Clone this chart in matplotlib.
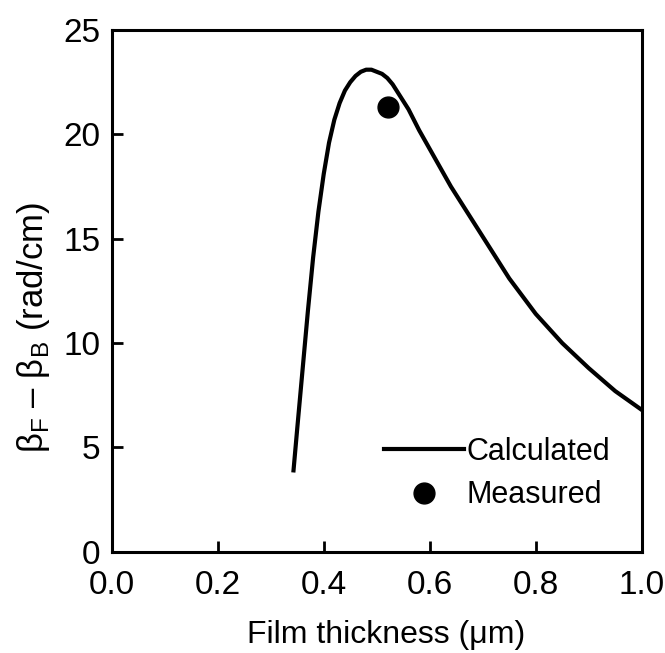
import matplotlib
matplotlib.use('Agg')
import matplotlib.pyplot as plt

plt.rcParams['font.family'] = ['Liberation Sans', 'DejaVu Sans']
plt.rcParams['mathtext.fontset'] = 'custom'
plt.rcParams['mathtext.rm'] = 'Liberation Sans'

# calculated curve
thickness = [0.343, 0.35, 0.36, 0.37, 0.38, 0.39, 0.40, 0.41, 0.42, 0.43,
             0.44, 0.45, 0.46, 0.47, 0.48, 0.49, 0.50, 0.51, 0.52, 0.53,
             0.54, 0.55, 0.56, 0.58, 0.60, 0.62, 0.64, 0.66, 0.68, 0.70,
             0.75, 0.80, 0.85, 0.90, 0.95, 1.0]
beta_diff = [3.9, 5.9, 8.7, 11.5, 14.1, 16.3, 18.1, 19.6, 20.7, 21.5,
             22.1, 22.5, 22.8, 23.0, 23.1, 23.1, 23.0, 22.9, 22.7, 22.4,
             22.0, 21.6, 21.2, 20.2, 19.3, 18.4, 17.5, 16.7, 15.9, 15.1,
             13.1, 11.4, 10.0, 8.8, 7.7, 6.8]

# measured point
meas_x = [0.521]
meas_y = [21.3]

x_ticks = [0.0, 0.2, 0.4, 0.6, 0.8, 1.0]
y_ticks = [0, 5, 10, 15, 20, 25]

fig = plt.figure(figsize=(6.65, 6.53), dpi=100)
ax = fig.add_axes([0.168, 0.155, 0.797, 0.799])

ax.plot(thickness, beta_diff, color='black', lw=3.0, label='Calculated',
        solid_joinstyle='round')
ax.plot(meas_x, meas_y, 'o', color='black', markersize=15, label='Measured')

ax.set_xlim(0, 1.0)
ax.set_ylim(0, 25)
ax.set_xticks(x_ticks)
ax.set_yticks(y_ticks)
ax.set_xticklabels(['%.1f' % v for v in x_ticks])
ax.tick_params(direction='in', length=8, width=2.0, labelsize=24)
ax.tick_params(axis='x', pad=13)
ax.tick_params(axis='y', pad=8)
for s in ax.spines.values():
    s.set_linewidth(2.2)

ax.set_xlabel('Film thickness (\u03bcm)', fontsize=23)
ax.xaxis.set_label_coords(0.517, -0.13)
ax.set_ylabel('\u03b2$_\\mathregular{F}$ \u2013 \u03b2$_\\mathregular{B}$ (rad/cm)',
              fontsize=25)
ax.yaxis.set_label_coords(-0.113, 0.431)

ax.legend(loc='lower right', bbox_to_anchor=(0.97, 0.05), frameon=False,
          fontsize=22, handlelength=2.6, handletextpad=0.1,
          labelspacing=0.45, borderpad=0)

fig.savefig('out.png', dpi=100)
